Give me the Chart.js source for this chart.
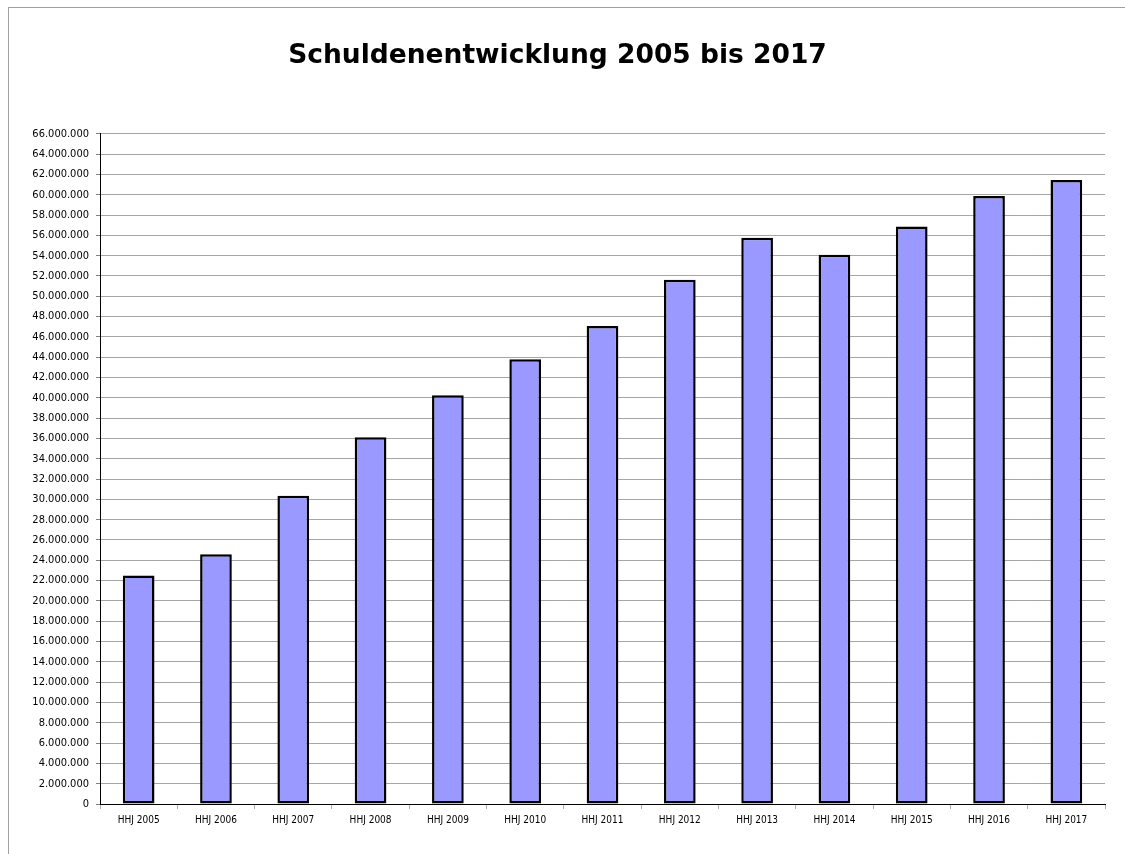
<!DOCTYPE html>
<html lang="de">
<head>
    <meta charset="UTF-8">
    <title>Schuldenentwicklung 2005 bis 2017</title>
    <script src="https://cdn.jsdelivr.net/npm/chart.js@4.4.0/dist/chart.umd.min.js"></script>
    <style>
        html, body{
            margin: 0;
            padding: 0;
            background: #fff;
        }
        .frame{
            position: absolute;
            left: 8px;
            top: 7px;
            width: 1125px;
            height: 854px;
            border-top: 1px solid #a0a0a0;
            border-left: 1px solid #a0a0a0;
        }
        #chartCanvas{
            position: absolute;
            left: 0;
            top: 0;
        }
    </style>
</head>
<body>
    <div class="frame"></div>
    <canvas id="chartCanvas" width="1125" height="854"></canvas>

    <script>
        // Haushaltsjahre und Schuldenstand
        var years = ['HHJ 2005', 'HHJ 2006', 'HHJ 2007', 'HHJ 2008', 'HHJ 2009', 'HHJ 2010', 'HHJ 2011',
                     'HHJ 2012', 'HHJ 2013', 'HHJ 2014', 'HHJ 2015', 'HHJ 2016', 'HHJ 2017'];
        var debt = [22500000, 24600000, 30350000, 36120000, 40250000, 43800000, 47080000,
                    51620000, 55760000, 54080000, 56860000, 59880000, 61460000];
        var yMax = 66000000;
        var yStep = 2000000;

        function formatDE(v){
            return String(v).replace(/\B(?=(\d{3})+(?!\d))/g, '.');
        }

        const ctx = document.getElementById('chartCanvas').getContext('2d');
        const chart = new Chart(ctx, {
            type: 'bar',
            data: {
                labels: years,
                datasets: [{
                    label: 'Schulden',
                    data: debt,
                    backgroundColor: '#9999ff',
                    borderColor: '#000',
                    borderWidth: 2.5,
                    borderSkipped: false,
                    barPercentage: 0.41,
                    categoryPercentage: 1
                }]
            },
            options: {
                responsive: false,
                animation: false,
                layout: {
                    padding: {left: 10, right: 20, top: 0, bottom: 0}
                },
                plugins: {
                    legend: {display: false},
                    tooltip: {enabled: false},
                    title: {
                        display: true,
                        text: 'Schuldenentwicklung 2005 bis 2017',
                        color: '#000',
                        font: {family: 'DejaVu Sans', size: 26.5, weight: 'bold', lineHeight: 1.2},
                        padding: {top: 40, bottom: 62}
                    }
                },
                scales: {
                    x: {
                        grid: {
                            offset: true,
                            drawOnChartArea: false,
                            tickLength: 5,
                            tickColor: '#b0b0b0'
                        },
                        border: {color: '#000', width: 1},
                        ticks: {
                            color: '#000',
                            padding: 5,
                            maxRotation: 0,
                            font: {family: 'DejaVu Sans Condensed, DejaVu Sans', size: 10}
                        },
                        afterFit: function(s){ s.height = 50; }
                    },
                    y: {
                        min: 0,
                        max: yMax,
                        grid: {
                            color: '#a6a6a6',
                            tickLength: 4,
                            tickColor: '#808080'
                        },
                        border: {color: '#000', width: 1},
                        ticks: {
                            stepSize: yStep,
                            color: '#000',
                            padding: 7,
                            font: {family: 'DejaVu Sans Condensed, DejaVu Sans', size: 11},
                            callback: function(v){ return formatDE(v); }
                        },
                        afterFit: function(s){ s.width = 90; }
                    }
                }
            }
        });
    </script>
</body>
</html>
